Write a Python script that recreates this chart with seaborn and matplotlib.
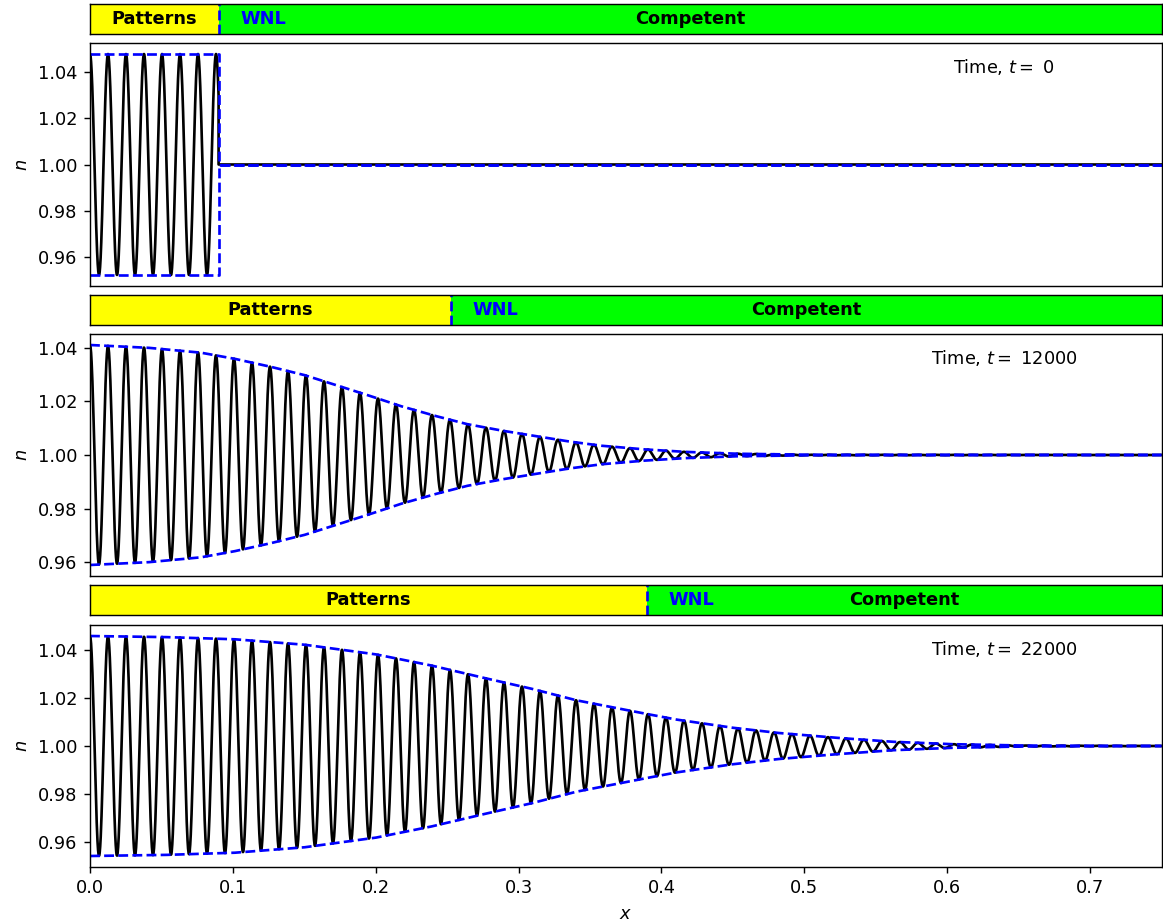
import numpy as np
import pandas as pd
import matplotlib
matplotlib.use("Agg")
import matplotlib.pyplot as plt
import seaborn as sns

# ---- data ----
times = [0, 12000, 22000]
boundaries = [0.09, 0.2527, 0.39]          # Patterns / Competent boundary
wavelength = 0.0126                         # pattern wavelength in x
x_max = 0.75

# envelope amplitude |n-1| sampled along x for each time
env_x_t0 = [0.0, 0.09, 0.09, 0.75]
env_a_t0 = [0.048, 0.048, 0.0, 0.0]

env_x_t12000 = [0, 0.04, 0.077, 0.10, 0.124, 0.15, 0.17, 0.195, 0.217, 0.24,
                0.264, 0.287, 0.31, 0.333, 0.357, 0.385, 0.415, 0.45, 0.5, 0.75]
env_a_t12000 = [0.041, 0.040, 0.0382, 0.036, 0.0332, 0.0298, 0.0264, 0.0222,
                0.0183, 0.0148, 0.0115, 0.0092, 0.0072, 0.0052, 0.0035, 0.0022,
                0.0012, 0.0005, 0.0001, 0.0]

env_x_t22000 = [0, 0.05, 0.10, 0.15, 0.20, 0.238, 0.27, 0.308, 0.34, 0.378,
                0.41, 0.448, 0.48, 0.518, 0.56, 0.60, 0.65, 0.75]
env_a_t22000 = [0.0456, 0.0452, 0.0443, 0.0420, 0.0380, 0.0335, 0.029, 0.0239,
                0.019, 0.0146, 0.011, 0.0077, 0.0055, 0.0036, 0.0018, 0.0008,
                0.0002, 0.0]

envelopes = [(env_x_t0, env_a_t0), (env_x_t12000, env_a_t12000),
             (env_x_t22000, env_a_t22000)]

region_labels = ["Patterns", "WNL", "Competent"]
pattern_color = "#ffff00"
competent_color = "#00ff00"

# ---- figure ----
W, H = 1163, 924
dpi = 128
fig = plt.figure(figsize=(W / dpi, H / dpi), dpi=dpi)

left = 90 / W
width = (1161.5 - 90) / W
bars_px = [(4, 34), (295, 325), (585, 615)]
mains_px = [(43, 286), (334, 576), (625, 867)]

for i in range(3):
    bt, bb = bars_px[i]
    mt, mb = mains_px[i]
    axb = fig.add_axes([left, 1 - bb / H, width, (bb - bt) / H])
    ax = fig.add_axes([left, 1 - mb / H, width, (mb - mt) / H])

    b = boundaries[i]
    # --- region bar ---
    axb.axvspan(0, b, color=pattern_color, lw=0)
    axb.axvspan(b, x_max, color=competent_color, lw=0)
    axb.axvline(b, color="blue", ls="--", lw=1.5)
    axb.set_xlim(0, x_max)
    axb.set_ylim(0, 1)
    axb.set_xticks([])
    axb.set_yticks([])
    axb.text(b / 2, 0.5, region_labels[0], ha="center", va="center",
             fontweight="bold", fontsize=10, color="black")
    axb.text(b + 0.015, 0.5, region_labels[1], ha="left", va="center",
             fontweight="bold", fontsize=10, color="blue")
    axb.text((b + x_max) / 2, 0.5, region_labels[2], ha="center", va="center",
             fontweight="bold", fontsize=10, color="black")

    # --- profile ---
    ex, ea = envelopes[i]
    if i == 0:
        xs = np.concatenate([np.linspace(0, b, 1200), np.linspace(b, x_max, 400)])
        amp = np.concatenate([np.full(1200, ea[0]), np.zeros(400)])
    else:
        xs = np.linspace(0, x_max, 4000)
        amp = np.interp(xs, ex, ea)
    n_vals = 1 + amp * np.cos(2 * np.pi * xs / wavelength)
    df = pd.DataFrame({"x": xs, "n": n_vals})
    sns.lineplot(data=df, x="x", y="n", ax=ax, color="black", lw=1.5,
                 estimator=None, sort=False)

    ex_arr = np.array(ex, dtype=float)
    ea_arr = np.array(ea, dtype=float)
    if i == 0:
        up_x, up_y = ex_arr, 1 + ea_arr
        lo_x, lo_y = ex_arr, 1 - ea_arr
    else:
        fine = np.linspace(0, x_max, 600)
        fa = np.interp(fine, ex_arr, ea_arr)
        up_x, up_y = fine, 1 + fa
        lo_x, lo_y = fine, 1 - fa
    sns.lineplot(x=up_x, y=up_y, ax=ax, color="blue", ls="--", lw=1.5,
                 estimator=None, sort=False)
    sns.lineplot(x=lo_x, y=lo_y, ax=ax, color="blue", ls="--", lw=1.5,
                 estimator=None, sort=False)

    ax.set_xlim(0, x_max)
    ax.set_yticks([0.96, 0.98, 1.00, 1.02, 1.04])
    ax.set_ylabel("$n$")
    ax.text(0.853, 0.9, "Time, $t=$ " + str(times[i]), transform=ax.transAxes,
            ha="center", va="center", fontsize=10)
    if i < 2:
        ax.set_xticks([])
        ax.set_xlabel("")
    else:
        ax.set_xticks(np.arange(0, 0.71, 0.1))
        ax.set_xlabel("$x$")

fig.savefig("out.png", dpi=dpi)
